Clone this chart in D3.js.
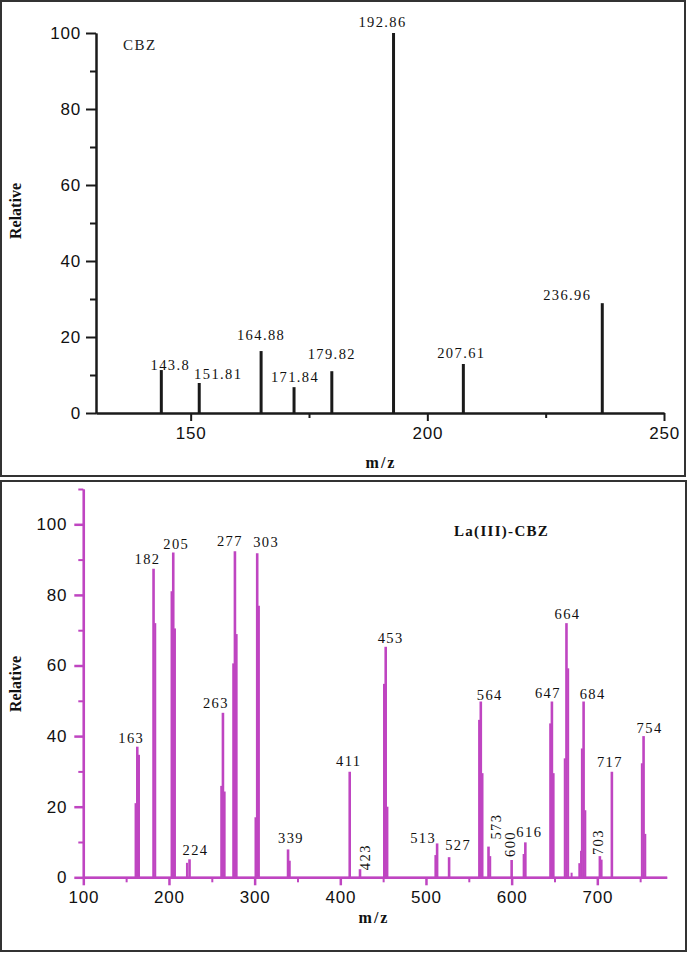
<!DOCTYPE html>
<html>
<head>
<meta charset="utf-8">
<script src="https://cdn.jsdelivr.net/npm/d3@7"></script>
<style>
  html, body { margin: 0; padding: 0; background: #fff; }
  svg { display: block; }
</style>
</head>
<body>
<script>
// ---------------- DATA ----------------
// Top panel: CBZ
const cbzMz  = [143.8, 151.81, 164.88, 171.84, 179.82, 192.86, 207.61, 236.96];
const cbzRel = [11.3, 7.9, 16.3, 6.8, 11.0, 100, 12.9, 28.9];
const cbzLabels = ["143.8", "151.81", "164.88", "171.84", "179.82", "192.86", "207.61", "236.96"];
const cbzXTicks = [150, 200, 250];
const cbzXMinor = [175, 225];
const cbzYTicks = [0, 20, 40, 60, 80, 100];
const cbzYMinor = [10, 30, 50, 70, 90];

// Bottom panel: La(III)-CBZ, labelled peaks
const laMz  = [163, 182, 205, 224, 263, 277, 303, 339, 411, 423, 453, 513, 527, 564, 573, 600, 616, 647, 664, 684, 703, 717, 754];
const laRel = [37, 87.4, 92, 5.1, 46.6, 92.4, 91.8, 7.9, 29.9, 2.3, 65.3, 9.6, 5.7, 49.8, 8.7, 4.9, 9.9, 49.8, 72, 49.8, 6, 29.9, 40];
const laLabels = laMz.map(String);
// Bottom panel: unlabelled neighbouring (isotope/shoulder) lines
const shoulderMz  = [161, 165, 184, 203, 207, 221, 261, 265, 275, 279, 301, 305, 341, 451, 455, 511, 562, 566, 575, 614, 645, 649, 662, 666, 670, 679, 681, 682, 686, 705, 752, 756];
const shoulderRel = [21, 34.7, 72, 81, 70.5, 4.1, 25.9, 24.3, 60.6, 68.9, 17, 76.9, 4.7, 54.8, 20, 6.3, 44.6, 29.5, 6, 6.6, 43.6, 29.5, 33.7, 59.2, 1.3, 4, 7.5, 36.5, 19, 5, 32.3, 12.3];
const laXTicks = [100, 200, 300, 400, 500, 600, 700];
const laXMinor = [150, 250, 350, 450, 550, 650, 750];
const laYTicks = [0, 20, 40, 60, 80, 100];
const laYMinor = [10, 30, 50, 70, 90, 110];

// ---------------- LAYOUT (label nudges in px) ----------------
const cbzLabelDx = [9, 19, 0, 1, 0, -11, -2, -35];
const cbzLabelDy = [0, -4, -11, -5, -12, -6, -6, -3];
const laLabelDx = [-6, -6, 3, 6, -7, -5, 9, 3, -1, 5, 5, -14, 9, 9, 7, -2, 4, -4, 1, 9, -2, -2, 6];
const laLabelDy = [-4, -5, -4, -4, -5, -5, -6, -6, -6, -12, -4, 0, -7, -2, -20, -16, -5, -4, -4, -3, -14, -5, -3];
const laRotated = [423, 573, 600, 703];

// ---------------- DRAW ----------------
const W = 688, H = 953;
const MAG = "#bf45c1";
const INK = "#1a1a1a";
const SANS = "'Liberation Sans', Arial, sans-serif";
const SERIF = "'Liberation Serif', 'Times New Roman', serif";

const svg = d3.select("body").append("svg").attr("width", W).attr("height", H);
svg.append("rect").attr("width", W).attr("height", H).attr("fill", "#fff");

// panel frames
svg.append("rect").attr("x", 1).attr("y", 1).attr("width", 684).attr("height", 475)
  .attr("fill", "none").attr("stroke", "#333").attr("stroke-width", 2);
svg.append("rect").attr("x", 1).attr("y", 481).attr("width", 685).attr("height", 470)
  .attr("fill", "none").attr("stroke", "#333").attr("stroke-width", 2);

function styleAxis(g, color, width) {
  g.select(".domain").attr("stroke", color).attr("stroke-width", width);
  g.selectAll(".tick line").attr("stroke", color).attr("stroke-width", width);
  g.selectAll(".tick text").attr("fill", "#111").attr("font-family", SANS)
    .attr("font-size", 17).attr("letter-spacing", "0.8px");
}

function panel(cfg) {
  const x = d3.scaleLinear().domain(cfg.xDomain).range(cfg.xRange);
  const y = d3.scaleLinear().domain(cfg.yDomain).range(cfg.yRange);
  const g = svg.append("g");

  // minor ticks
  g.append("g").attr("transform", `translate(0,${cfg.yRange[0]})`)
    .call(d3.axisBottom(x).tickValues(cfg.xMinor).tickSize(5).tickSizeOuter(0).tickFormat(""))
    .call(a => styleAxis(a, cfg.axisColor, 2));
  g.append("g").attr("transform", `translate(${cfg.xRange[0]},0)`)
    .call(d3.axisLeft(y).tickValues(cfg.yMinor).tickSize(cfg.yMinorSize).tickSizeOuter(0).tickFormat(""))
    .call(a => styleAxis(a, cfg.axisColor, 2));

  // shoulder lines
  if (cfg.subMz) {
    g.selectAll("line.sub").data(cfg.subMz.map((m, i) => [m, cfg.subRel[i]])).enter()
      .append("line").attr("class", "sub")
      .attr("x1", d => x(d[0])).attr("x2", d => x(d[0]))
      .attr("y1", y(0)).attr("y2", d => y(d[1]))
      .attr("stroke", cfg.stickColor).attr("stroke-width", 2);
  }
  // main sticks
  const peaks = cfg.mz.map((m, i) => ({ m, v: cfg.rel[i], label: cfg.labels[i], dx: cfg.dx[i], dy: cfg.dy[i] }));
  g.selectAll("line.stick").data(peaks).enter().append("line").attr("class", "stick")
    .attr("x1", d => x(d.m)).attr("x2", d => x(d.m))
    .attr("y1", y(0)).attr("y2", d => y(d.v))
    .attr("stroke", cfg.stickColor).attr("stroke-width", cfg.stickWidth);

  // axes
  g.append("g").attr("transform", `translate(0,${cfg.yRange[0]})`)
    .call(d3.axisBottom(x).tickValues(cfg.xTicks).tickSize(8).tickPadding(6).tickSizeOuter(0))
    .call(a => styleAxis(a, cfg.axisColor, cfg.axisWidth));
  g.append("g").attr("transform", `translate(${cfg.xRange[0]},0)`)
    .call(d3.axisLeft(y).tickValues(cfg.yTicks).tickSize(cfg.yMajorSize).tickPadding(cfg.yPad).tickSizeOuter(0))
    .call(a => styleAxis(a, cfg.axisColor, cfg.axisWidth));

  // peak labels
  peaks.forEach(p => {
    const rot = cfg.rotated && cfg.rotated.includes(p.m);
    const px = x(p.m) + p.dx, py = y(p.v) + p.dy;
    const t = g.append("text").text(p.label)
      .attr("font-family", SERIF).attr("font-size", 14.5).attr("letter-spacing", "1.4px")
      .attr("fill", "#111").attr("text-anchor", "middle");
    if (rot) {
      t.attr("transform", `translate(${px},${py}) rotate(-90)`).attr("dy", "0.35em");
    } else {
      t.attr("x", px).attr("y", py);
    }
  });

  // axis titles
  svg.append("text").text("Relative")
    .attr("transform", `translate(${cfg.yTitle[0]},${cfg.yTitle[1]}) rotate(-90)`)
    .attr("text-anchor", "middle").attr("font-family", SERIF).attr("font-weight", "bold")
    .attr("font-size", 16).attr("fill", "#111");
  svg.append("text").text("m/z")
    .attr("x", cfg.xTitle[0]).attr("y", cfg.xTitle[1])
    .attr("text-anchor", "middle").attr("font-family", SERIF).attr("font-weight", "bold")
    .attr("font-size", 16).attr("letter-spacing", "2px").attr("fill", "#111");
  return { x, y };
}

panel({
  xDomain: [130, 250], xRange: [96, 664],
  yDomain: [0, 100], yRange: [413, 33],
  xTicks: cbzXTicks, xMinor: cbzXMinor, yTicks: cbzYTicks, yMinor: cbzYMinor,
  yMajorSize: 10, yMinorSize: 6, yPad: 5,
  mz: cbzMz, rel: cbzRel, labels: cbzLabels, dx: cbzLabelDx, dy: cbzLabelDy,
  stickColor: INK, stickWidth: 3, axisColor: INK, axisWidth: 2,
  yTitle: [21, 211], xTitle: [381, 468]
});

panel({
  xDomain: [100, 781], xRange: [83.3, 666.7],
  yDomain: [0, 110], yRange: [877.3, 489],
  xTicks: laXTicks, xMinor: laXMinor, yTicks: laYTicks, yMinor: laYMinor,
  yMajorSize: 9, yMinorSize: 5, yPad: 7,
  mz: laMz, rel: laRel, labels: laLabels, dx: laLabelDx, dy: laLabelDy, rotated: laRotated,
  subMz: shoulderMz, subRel: shoulderRel,
  stickColor: MAG, stickWidth: 2.6, axisColor: MAG, axisWidth: 2.5,
  yTitle: [21, 684], xTitle: [374, 923]
});

// panel titles
svg.append("text").text("CBZ").attr("x", 123).attr("y", 50)
  .attr("font-family", SERIF).attr("font-size", 15).attr("letter-spacing", "1.5px").attr("fill", "#222");
svg.append("text").text("La(III)-CBZ").attr("x", 454).attr("y", 536)
  .attr("font-family", SERIF).attr("font-weight", "bold").attr("font-size", 15)
  .attr("letter-spacing", "1.3px").attr("fill", "#111");
</script>
</body>
</html>
